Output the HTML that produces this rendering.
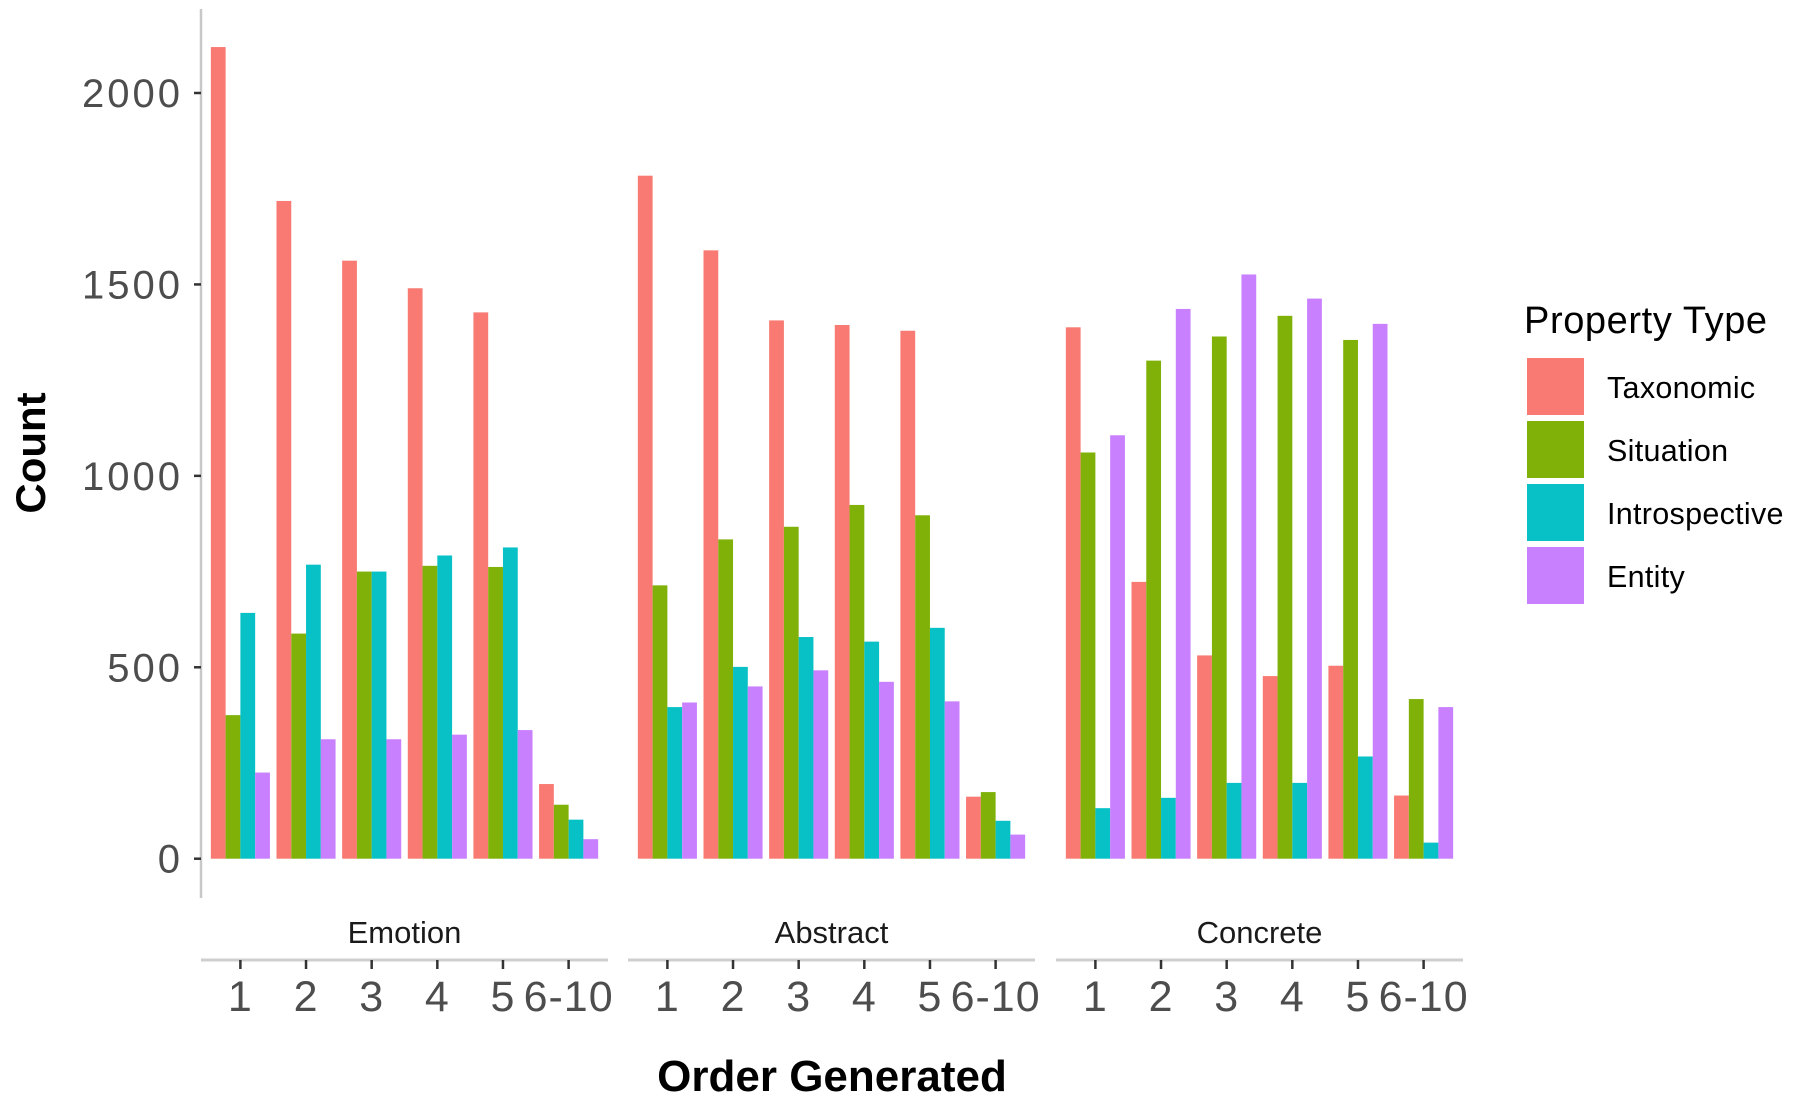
<!DOCTYPE html>
<html><head><meta charset="utf-8"><style>
html,body{margin:0;padding:0;background:#fff;}
svg{display:block;font-family:"Liberation Sans",Arial,sans-serif;}
</style></head><body>
<svg id="chart" width="1800" height="1103" viewBox="0 0 1800 1103">
<g id="bars"></g>
<g id="axes"></g>
</svg>
<script>
const panels = ["Emotion","Abstract","Concrete"];
const categories = ["1","2","3","4","5","6-10"];
const seriesNames = ["Taxonomic","Situation","Introspective","Entity"];
const yTicks = [0,500,1000,1500,2000];
const emotionTaxonomic = [2120,1718,1562,1490,1427,195];
const emotionSituation = [375,588,750,765,762,141];
const emotionIntrospective = [642,768,750,792,813,102];
const emotionEntity = [225,312,312,324,336,51];
const abstractTaxonomic = [1784,1589,1406,1394,1379,162];
const abstractSituation = [714,834,867,924,897,174];
const abstractIntrospective = [396,501,579,567,603,99];
const abstractEntity = [408,450,492,462,411,63];
const concreteTaxonomic = [1388,723,531,477,504,165];
const concreteSituation = [1061,1301,1364,1418,1355,417];
const concreteIntrospective = [132,159,198,198,267,42];
const concreteEntity = [1106,1436,1526,1463,1397,396];

const data = [
  [emotionTaxonomic,emotionSituation,emotionIntrospective,emotionEntity],
  [abstractTaxonomic,abstractSituation,abstractIntrospective,abstractEntity],
  [concreteTaxonomic,concreteSituation,concreteIntrospective,concreteEntity]
];
const colors = ["#F8766D","#7CAE00","#00BFC4","#C77CFF"];
const NS = "http://www.w3.org/2000/svg";
const y0px = 858.7, y2000px = 93;
function yScale(v){ return y0px - v*(y0px - y2000px)/2000; }
const panelLeft = [201, 628, 1056];
const panelW = 407;
const step = panelW/6.2;
function xScale(p,i){ return panelLeft[p] + step*(0.6+i); }
function mk(tag, attrs, parent){
  const e = document.createElementNS(NS, tag);
  for (const k in attrs) e.setAttribute(k, attrs[k]);
  parent.appendChild(e); return e;
}
const barsG = document.getElementById('bars');
const axesG = document.getElementById('axes');
const bw = step*0.9/4;
data.forEach((ser,p)=>{
  ser.forEach((vals,s)=>{
    vals.forEach((v,i)=>{
      const x = xScale(p,i) - step*0.45 + s*bw;
      const r = mk('rect',{x:x,y:yScale(v),width:bw,height:y0px-yScale(v),fill:colors[s],'fill-opacity':0.97},barsG);
      
      
    });
  });
});
let yl = mk('line',{x1:201,y1:9,x2:201,y2:898,stroke:'#c8c8c8','stroke-width':2.5},axesG);


yTicks.forEach(t=>{
  const y = yScale(t);
  const tk = mk('line',{x1:194,y1:y,x2:201,y2:y,stroke:'#333','stroke-width':2.5},axesG);
  
  
  const tx = mk('text',{x:183,y:y+14,'text-anchor':'end','font-size':40,'letter-spacing':3,fill:'#4d4d4d'},axesG);
  tx.textContent = t;
  
  
});
panels.forEach((name,p)=>{
  const sl = mk('line',{x1:panelLeft[p],y1:960,x2:panelLeft[p]+panelW,y2:960,stroke:'#cfcfcf','stroke-width':3},axesG);
  
  
  const st = mk('text',{x:panelLeft[p]+panelW/2,y:943,'text-anchor':'middle','font-size':31,fill:'#1a1a1a'},axesG);
  st.textContent = name;
  
  
  categories.forEach((c,i)=>{
    const x = xScale(p,i);
    const tk = mk('line',{x1:x,y1:960,x2:x,y2:969,stroke:'#333','stroke-width':2.5},axesG);
    
    
    const tx = mk('text',{x:x,y:1011,'text-anchor':'middle','font-size':43,'letter-spacing':1,fill:'#4d4d4d'},axesG);
    tx.textContent = c;
    
    
  });
});
const xt = mk('text',{x:832,y:1091,'text-anchor':'middle','font-size':44,'font-weight':'bold',fill:'#000'},axesG);
xt.textContent = 'Order Generated';


const ytl = mk('text',{x:0,y:0,'text-anchor':'middle','font-size':42,'font-weight':'bold',fill:'#000',transform:'translate(45,453) rotate(-90)'},axesG);
ytl.textContent = 'Count';


const lg = mk('g',{},axesG);


const lt = mk('text',{x:1524,y:333,'font-size':38,'letter-spacing':0.6,fill:'#000'},lg);
lt.textContent = 'Property Type';


const keyY = [358,421,484,547];
seriesNames.forEach((n,s)=>{
  const r = mk('rect',{x:1527,y:keyY[s],width:57,height:57,fill:colors[s],'fill-opacity':0.97},lg);
  
  
  const t = mk('text',{x:1607,y:keyY[s]+40,'font-size':30.5,'letter-spacing':0.3,fill:'#000'},lg);
  t.textContent = n;
  
  
});
</script>
</body></html>
